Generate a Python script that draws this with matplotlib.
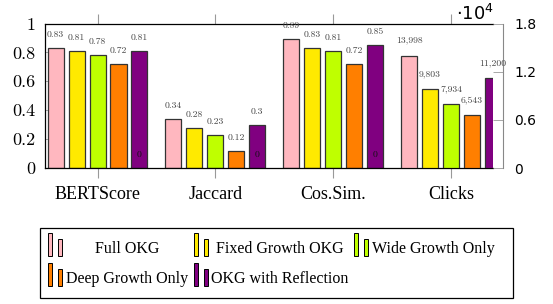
import numpy as np
import matplotlib
matplotlib.use("Agg")
import matplotlib.pyplot as plt
from matplotlib.patches import Rectangle

# data
groups = ["BERTScore", "Jaccard", "Cos.Sim.", "Clicks"]
series = ["Full OKG", "Fixed Growth OKG", "Wide Growth Only",
          "Deep Growth Only", "OKG with Reflection"]
colors = ["#FFB7BF", "#FFEA00", "#BFFF00", "#FF7F00", "#800080"]
scores = {  # BERTScore, Jaccard, Cos.Sim.
    "Full OKG": [0.83, 0.34, 0.89],
    "Fixed Growth OKG": [0.81, 0.28, 0.83],
    "Wide Growth Only": [0.78, 0.23, 0.81],
    "Deep Growth Only": [0.72, 0.12, 0.72],
    "OKG with Reflection": [0.81, 0.3, 0.85],
}
clicks = [13998, 9803, 7934, 6543, 11200]
left_ticks = [0, 0.2, 0.4, 0.6, 0.8, 1]
left_ticklabels = ["0", "0.2", "0.4", "0.6", "0.8", "1"]
right_ticks = [0, 6000, 12000, 18000]
right_ticklabels = ["0", "0.6", "1.2", "1.8"]

W, H = 553, 304
NUM = "cmr10"
TXT = "Liberation Serif"
EDGE = "#333333"
LBL = "#444444"

fig = plt.figure(figsize=(W / 100, H / 100), dpi=100)
ax = fig.add_axes([45 / W, 1 - 168 / H, (493 - 45) / W, (168 - 23.5) / H])
ax2 = ax.twinx()

x = np.arange(len(groups))
step, width = 0.178, 0.136

for i, name in enumerate(series):
    xs = x[:3] + (i - 2) * step
    bars = ax.bar(xs, scores[name], width, color=colors[i], edgecolor=EDGE, linewidth=0.9, zorder=2)
    for b, v in zip(bars, scores[name]):
        ax.annotate(f"{v:g}", (b.get_x() + b.get_width() / 2, v), xytext=(0, 9.5),
                    textcoords="offset points", ha="center", va="center",
                    fontsize=7, family=NUM, color=LBL, annotation_clip=False)
    b = ax2.bar(x[3] + (i - 2) * step, clicks[i], width, color=colors[i], edgecolor=EDGE,
                linewidth=0.9, zorder=2)[0]
    ax2.annotate(f"{clicks[i]:,}", (b.get_x() + b.get_width() / 2, clicks[i]), xytext=(0, 11),
                 textcoords="offset points", ha="center", va="center",
                 fontsize=7, family=NUM, color=LBL, annotation_clip=False)

# stray zero labels of the reflection series on the right axis
for gx in x[:3]:
    ax2.annotate("0", (gx + 2 * step, 0), xytext=(0, 9.5), textcoords="offset points",
                 ha="center", va="center", fontsize=7, family=NUM, color="#111111",
                 annotation_clip=False, zorder=5)

ax.set_xlim(-0.4457, 3.3565)
ax.set_ylim(0, 1)
ax2.set_ylim(0, 18000)

ax.tick_params(axis="x", direction="out", length=7.2, width=0.8, color="#999999",
               top=True, pad=6)
ax.tick_params(axis="y", direction="in", length=3, width=0.6, color="#999999", pad=7)
ax2.tick_params(axis="y", direction="in", length=7, width=0.6, color="#999999", pad=8)

ax.set_xticks(x)
ax.set_xticklabels(groups, family=TXT, fontsize=13)
ax.set_yticks(left_ticks)
ax.set_yticklabels(left_ticklabels, family=NUM, fontsize=13)
ax2.set_yticks(right_ticks)
ax2.set_yticklabels(right_ticklabels, family=NUM, fontsize=13)

for s in ["left", "bottom", "top"]:
    ax.spines[s].set_linewidth(0.9)
    ax.spines[s].set_color("black")
ax.spines["right"].set_visible(False)
for s in ["left", "bottom", "top"]:
    ax2.spines[s].set_visible(False)
ax2.spines["right"].set_position(("outward", 7.2))
ax2.spines["right"].set_color("#888888")
ax2.spines["right"].set_linewidth(0.8)

fig.text(475 / W, 1 - 14 / H, r"$\cdot 10^4$", ha="center", va="center", fontsize=13)

# legend drawn by hand: pgfplots-style two-bar handles, centred text
def px(xp, yp):
    return xp / W, 1 - yp / H

lx0, ly0, lx1, ly1 = 40, 227.5, 513, 297.5
fig.patches.append(Rectangle(px(lx0, ly1), (lx1 - lx0) / W, (ly1 - ly0) / H,
                             transform=fig.transFigure, fill=False, edgecolor="black",
                             linewidth=0.9))
handle_x = [48, 194, 354]
text_cx = [127, 280, 433]
row_y = [256, 286]
for i, name in enumerate(series):
    r, c = divmod(i, 3)
    hx, by = handle_x[c], row_y[r]
    for dx, hgt in [(0, 23), (9.5, 17)]:
        fig.patches.append(Rectangle(px(hx + dx, by), 4 / W, hgt / H,
                                     transform=fig.transFigure, facecolor=colors[i],
                                     edgecolor="black", linewidth=0.7))
    fig.text(text_cx[c] / W, 1 - (by - 7) / H, name, ha="center", va="center",
             family=TXT, fontsize=11.5)

fig.savefig("out.png", dpi=100)
